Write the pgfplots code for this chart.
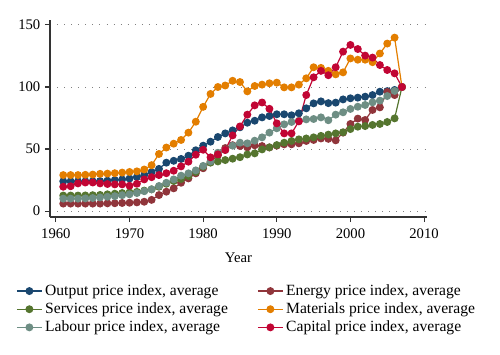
\documentclass[border=0pt]{standalone}
\usepackage{fontspec}
\setmainfont{Liberation Serif}
\usepackage{pgfplots}
\usepackage{pgfplotstable}
\pgfplotsset{compat=1.18}
\definecolor{cnavy}{RGB}{26,71,111}
\definecolor{cmaroon}{RGB}{144,53,59}
\definecolor{cforest}{RGB}{85,117,47}
\definecolor{corange}{RGB}{227,126,0}
\definecolor{cteal}{RGB}{110,142,132}
\definecolor{ccran}{RGB}{193,5,52}
\pgfplotstableread{
year output energy services materials labour capital
1961 24   6    12.5 29   10   19.6
1962 24   6    12.5 29   10   20
1963 24   6    12.5 29   10   22.3
1964 24   6    12.6 29.2 10.2 23
1965 24   6    12.8 29.4 10.5 23
1966 24.2 6    13   30   11   22.3
1967 24.5 6.2  13.5 30.2 11.5 21.8
1968 25   6.3  14   30.5 12   21.5
1969 25.5 6.5  14.5 31   12.8 21.5
1970 26.2 6.7  15   31.5 13.5 20.4
1971 27.5 7    15.5 32   14.5 22
1972 29   7.5  16.5 33.5 16   25.5
1973 31.5 9    17.5 37   17.5 27.3
1974 34   12.9 19.6 46   20.2 29
1975 39   15.6 22   51.2 22.8 30.5
1976 40.5 18.3 24.2 54.3 25.5 32.5
1977 42   22.8 25.8 57.3 28.5 36
1978 44.6 26.3 28.2 63.2 30.4 39.8
1979 49   30.4 31.5 72   32.8 45.4
1980 52.7 34.5 35.8 84   36.4 49.4
1981 55.9 39.5 39   94.4 40   43.3
1982 59.7 44.8 40   100  47   45.7
1983 62.6 50.8 41.1 101.2 49.2 49.2
1984 65   53.1 42.2 105  52.7 61
1985 67.5 52.4 43.4 104  55.1 68.2
1986 71.2 51.3 45.6 96.5 54.6 77.7
1987 72.8 53   46.5 100.8 56.7 85.2
1988 75.5 52.4 49.7 101.9 59.4 87.5
1989 76.6 51.3 51.3 103  63.2 82.4
1990 78   52.7 53.2 103.5 66.7 70.7
1991 78   53.8 55.1 99.7 69.9 62.6
1992 77.2 53.8 56.5 99.7 71.8 62.6
1993 78.8 54.6 57.8 101.9 72.8 72.3
1994 82.8 56.5 58.5 107  73.9 93.5
1995 86.8 57.3 59.4 115.9 74.2 107.8
1996 88.4 58.5 60.6 115.4 75.5 113
1997 87   58.2 61.6 113  73.2 109.5
1998 87.4 57   62.6 110.2 77.7 115.9
1999 90   63.2 63.5 111.8 79.6 128.5
2000 90.9 70.2 66.1 123  82.3 133.9
2001 91.4 74.5 68   122  84.1 130.6
2002 92.2 73.4 68.5 122  85.5 125.3
2003 93.5 81.5 69.4 120  87.6 123.7
2004 96.2 83.6 70.2 127  89   117.7
2005 96.7 96   71.8 135  92.7 113.7
2006 97.6 93.5 74.7 139.8 96.8 111
2007 100  100  100  100  100  100
}\data
\begin{document}
\begin{tikzpicture}
\path[use as bounding box] (-37.5pt,-102.75pt) rectangle (337.5pt,162.75pt);
\begin{axis}[
  at={(0pt,0pt)}, anchor=south west,
  scale only axis, width=282.75pt, height=147.75pt,
  xmin=1959.2, xmax=2010.4, ymin=-4.8, ymax=154,
  axis x line*=bottom, axis y line*=left,
  axis line style={line width=0.8pt, black!80, -},
  tick align=outside, major tick length=3.75pt,
  tick style={line width=0.8pt, black!80},
  xtick={1960,1970,...,2010}, ytick={0,50,100,150},
  /pgf/number format/1000 sep={},
  /pgf/number format/assume math mode=true,
  ymajorgrids,
  grid style={dash pattern=on 0.7pt off 4.6pt, gray, line width=0.7pt},
  tick label style={font=\fontsize{11}{13}\selectfont},
  x tick label style={yshift=-1.5pt},
  label style={font=\fontsize{11}{13}\selectfont},
  xlabel={Year},
  xlabel style={yshift=-4pt},
  legend columns=2, legend cell align=left,
  legend style={draw=none, fill=none, at={(axis description cs:-0.1008,-0.315)}, anchor=north west,
    font=\fontsize{11.7}{13}\selectfont, row sep=0pt,
    /tikz/every even column/.append style={column sep=20pt}},
  legend image code/.code={\draw[mark repeat=2,mark phase=2,#1] plot coordinates {(0cm,0cm)(0.33cm,0cm)(0.66cm,0cm)};},
  every axis plot/.append style={line width=0.9pt, mark=*, mark size=2.5pt, mark options={solid}},
]
\addplot[color=cnavy] table[x=year,y=output] {\data};
\addlegendentry{Output price index, average}
\addplot[color=cmaroon] table[x=year,y=energy] {\data};
\addlegendentry{Energy price index, average}
\addplot[color=cforest] table[x=year,y=services] {\data};
\addlegendentry{Services price index, average}
\addplot[color=corange] table[x=year,y=materials] {\data};
\addlegendentry{Materials price index, average}
\addplot[color=cteal] table[x=year,y=labour] {\data};
\addlegendentry{Labour price index, average}
\addplot[color=ccran] table[x=year,y=capital] {\data};
\addlegendentry{Capital price index, average}
\end{axis}
\end{tikzpicture}
\end{document}
